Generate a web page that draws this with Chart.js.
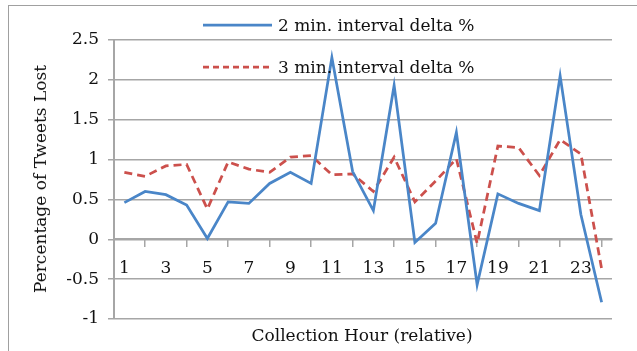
<!DOCTYPE html>
<html lang="en">
<head>
    <meta charset="UTF-8">
    <title>Tweets lost per collection hour</title>
    <style>
        body {
            margin: 0;
            padding: 0;
            background-color: #ffffff;
            overflow: hidden;
        }

        .wrap {
            position: relative;
            width: 637px;
            height: 351px;
            font-family: 'DejaVu Serif', serif;
            color: #111;
        }

        .frame {
            position: absolute;
            left: 8px;
            top: 5px;
            width: 660px;
            height: 400px;
            border: 1.5px solid #a0a0a0;
            box-sizing: border-box;
        }

        canvas {
            position: absolute;
            left: 0;
            top: 0;
        }

        .y-title {
            position: absolute;
            left: 40px;
            top: 179px;
            font-size: 17px;
            white-space: nowrap;
            transform: translate(-50%, -50%) rotate(-90deg);
        }

        .x-title {
            position: absolute;
            left: 362px;
            top: 335px;
            font-size: 17px;
            white-space: nowrap;
            transform: translate(-50%, -50%);
        }
    </style>
    <script src="https://cdn.jsdelivr.net/npm/chart.js"></script>
</head>
<body>
    <div class="wrap">
        <div class="frame"></div>
        <canvas id="lostChart" width="637" height="351"></canvas>
        <div class="y-title">Percentage of Tweets Lost</div>
        <div class="x-title">Collection Hour (relative)</div>
    </div>

    <script>
        // values
        const hours = ['1', '2', '3', '4', '5', '6', '7', '8', '9', '10', '11', '12',
                       '13', '14', '15', '16', '17', '18', '19', '20', '21', '22', '23', '24'];
        const delta2min = [0.46, 0.60, 0.56, 0.43, 0.01, 0.47, 0.45, 0.70, 0.84, 0.70, 2.28, 0.85,
                           0.36, 1.93, -0.04, 0.20, 1.34, -0.57, 0.57, 0.45, 0.36, 2.05, 0.31, -0.79];
        const delta3min = [0.84, 0.79, 0.92, 0.94, 0.38, 0.97, 0.88, 0.84, 1.03, 1.05, 0.81, 0.82,
                           0.60, 1.03, 0.47, 0.73, 1.01, -0.05, 1.17, 1.15, 0.80, 1.25, 1.07, -0.37];
        const seriesNames = ['2 min. interval delta %', '3 min. interval delta %'];

        const gridColor = '#a6a6a6';
        const textColor = '#111';
        const tickFont = { family: 'DejaVu Serif', size: 17 };

        // legend sits inside the plot, drawn on top of the lines
        const legendInPlot = {
            id: 'legendInPlot',
            afterDraw(chart) {
                const ctx = chart.ctx;
                const rows = [25, 67];
                chart.data.datasets.forEach((ds, i) => {
                    ctx.save();
                    ctx.strokeStyle = ds.borderColor;
                    ctx.lineWidth = ds.borderWidth;
                    ctx.setLineDash(ds.borderDash ? [6, 4] : []);
                    ctx.beginPath();
                    ctx.moveTo(203, rows[i]);
                    ctx.lineTo(272, rows[i]);
                    ctx.stroke();
                    ctx.setLineDash([]);
                    ctx.fillStyle = textColor;
                    ctx.font = '17px "DejaVu Serif"';
                    ctx.textBaseline = 'middle';
                    ctx.fillText(ds.label, 278, rows[i] + 2);
                    ctx.restore();
                });
            }
        };

        const ctx = document.getElementById('lostChart').getContext('2d');
        new Chart(ctx, {
            type: 'line',
            data: {
                labels: hours,
                datasets: [
                    {
                        label: seriesNames[0],
                        data: delta2min,
                        borderColor: '#4a86c8',
                        borderWidth: 2.75,
                        pointRadius: 0,
                        tension: 0,
                        fill: false
                    },
                    {
                        label: seriesNames[1],
                        data: delta3min,
                        borderColor: '#cc504c',
                        borderWidth: 2.75,
                        borderDash: [8, 5],
                        pointRadius: 0,
                        tension: 0,
                        fill: false
                    }
                ]
            },
            options: {
                responsive: false,
                animation: false,
                layout: { padding: { left: 0, top: 40, right: 25, bottom: 32 } },
                plugins: {
                    legend: { display: false },
                    tooltip: { enabled: false }
                },
                scales: {
                    x: {
                        position: { y: 0 },
                        offset: true,
                        grid: {
                            offset: true,
                            drawOnChartArea: false,
                            drawTicks: true,
                            tickLength: 7,
                            color: gridColor,
                            lineWidth: 1.5
                        },
                        border: { display: true, color: gridColor, width: 2 },
                        ticks: {
                            autoSkip: false,
                            maxRotation: 0,
                            padding: 12,
                            color: textColor,
                            font: tickFont,
                            callback: (v, i) => (i % 2 === 0 ? hours[i] : null)
                        }
                    },
                    y: {
                        min: -1,
                        max: 2.5,
                        ticks: {
                            stepSize: 0.5,
                            padding: 9,
                            color: textColor,
                            font: tickFont,
                            callback: (v) => String(v)
                        },
                        grid: { color: gridColor, lineWidth: 1.5, tickLength: 6 },
                        border: { color: gridColor, width: 2 },
                        afterFit: (scale) => { scale.width = 114; }
                    }
                }
            },
            plugins: [legendInPlot]
        });
    </script>
</body>
</html>
